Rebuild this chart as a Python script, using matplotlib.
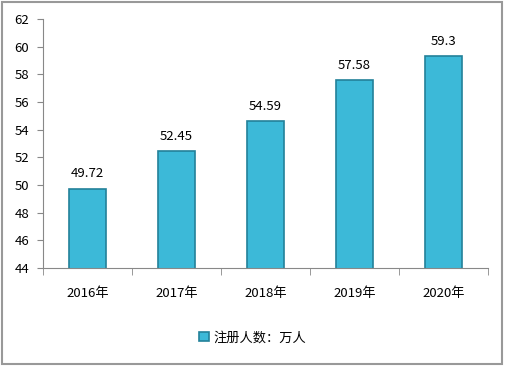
import matplotlib.pyplot as plt
from matplotlib.patches import Rectangle
import numpy as np

plt.rcParams['font.family'] = ['Noto Sans CJK SC', 'DejaVu Sans']

years = ['2016年', '2017年', '2018年', '2019年', '2020年']
users = [49.72, 52.45, 54.59, 57.58, 59.3]
value_labels = ['49.72', '52.45', '54.59', '57.58', '59.3']
legend_label = '注册人数：万人'

fig = plt.figure(figsize=(5.06, 3.66), dpi=100)
ax = fig.add_axes([0.085, 0.268, 0.879, 0.68])

x = np.arange(len(years))
bars = ax.bar(x, users, width=0.41, bottom=0, color='#3cb9d8',
              edgecolor='#23819a', linewidth=1.2, label=legend_label)

for xi, v, lab in zip(x, users, value_labels):
    ax.annotate(lab, (xi, v), xytext=(0, 6), textcoords='offset points',
                ha='center', va='bottom', fontsize=9.5)

ax.set_xlim(-0.5, len(years) - 0.5)
ax.set_ylim(44, 62)
ax.set_yticks(range(44, 63, 2))
ax.set_xticks(x)
ax.set_xticklabels(years, fontsize=9.5)
ax.set_xticks(np.arange(-0.5, len(years), 1), minor=True)
ax.tick_params(axis='x', which='major', length=0, pad=14)
ax.tick_params(axis='x', which='minor', length=5, color='#888888', direction='out')
ax.tick_params(axis='y', length=4, color='#888888', labelsize=9.5, pad=6)

for side in ['top', 'right']:
    ax.spines[side].set_visible(False)
for side in ['left', 'bottom']:
    ax.spines[side].set_color('#888888')

ax.legend(loc='center', bbox_to_anchor=(0.5, 0.077), bbox_transform=fig.transFigure,
          frameon=False, fontsize=9.5, handlelength=0.7, handleheight=0.7,
          handletextpad=0.4)

# outer frame of the picture
fig.patches.append(Rectangle((0.003, 0.006), 0.99, 0.988, transform=fig.transFigure,
                             fill=False, edgecolor='#999999', linewidth=1.5))

fig.savefig('out.png', dpi=100)
